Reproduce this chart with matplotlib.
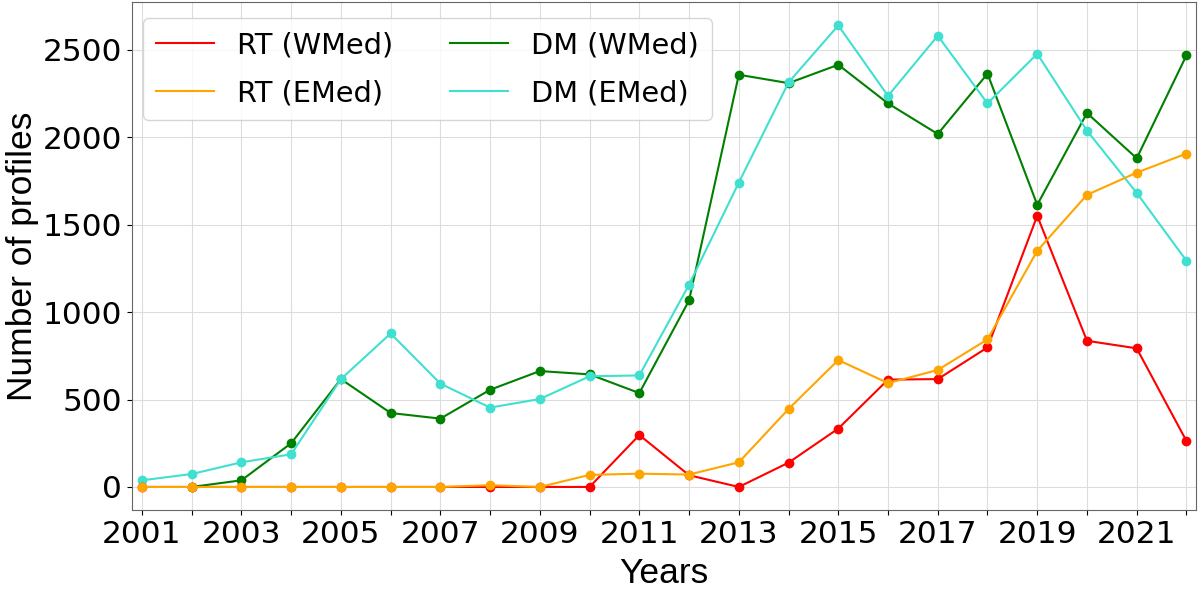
import numpy as np
import matplotlib.pyplot as plt
from matplotlib.lines import Line2D

years = np.arange(2001, 2023)

rt_wmed = [0, 0, 0, 0, 0, 0, 0, 0, 0, 0, 297, 67, 0, 139, 334, 614, 617, 798, 1551, 836, 793, 263]
rt_emed = [0, 0, 0, 0, 0, 0, 0, 10, 0, 69, 76, 71, 141, 446, 726, 594, 669, 844, 1351, 1671, 1798, 1907]
dm_wmed = [np.nan, 0, 38, 250, 617, 423, 391, 556, 663, 644, 537, 1067, 2358, 2310, 2415, 2194,
           2019, 2364, 1614, 2139, 1880, 2469]
dm_emed = [38, 74, 141, 187, 617, 878, 591, 454, 503, 633, 638, 1157, 1741, 2314, 2640, 2237,
           2581, 2194, 2478, 2038, 1682, 1294]

series = [
    (rt_wmed, "red", "RT (WMed)"),
    (rt_emed, "orange", "RT (EMed)"),
    (dm_wmed, "green", "DM (WMed)"),
    (dm_emed, "turquoise", "DM (EMed)"),
]

fig = plt.figure(figsize=(12, 5.91), dpi=100)
ax = fig.add_axes([0.11, 0.137, 0.887, 0.859])

# DM drawn first so RT markers sit on top
zorders = [4, 5, 2, 3]
handles = []
for (vals, col, lab), z in zip(series, zorders):
    ax.plot(years, vals, color=col, marker="o", markersize=6, lw=1.5, zorder=z)
    handles.append(Line2D([], [], color=col, lw=1.5, label=lab))

ax.set_xticks(years)
ax.set_xticklabels([str(y) if y % 2 == 1 else "" for y in years])
ax.set_xlim(2000.8, 2022.2)
ax.tick_params(labelsize=22.5)

ax.set_xlabel("Years", fontsize=25.5, family="Liberation Sans", labelpad=6)
ax.set_ylabel("Number of profiles", fontsize=25.5, family="Liberation Sans", labelpad=3)
ax.grid(True, color="#dddddd", lw=0.8)

for s in ax.spines.values():
    s.set_color("#666666")

ax.legend(handles=handles, ncol=2, loc="upper left", bbox_to_anchor=(0.0106, 0.969),
          borderaxespad=0, fontsize=20.7, handlelength=2, columnspacing=2,
          labelspacing=0.7, borderpad=0.45)

fig.savefig("out.png", dpi=100)
